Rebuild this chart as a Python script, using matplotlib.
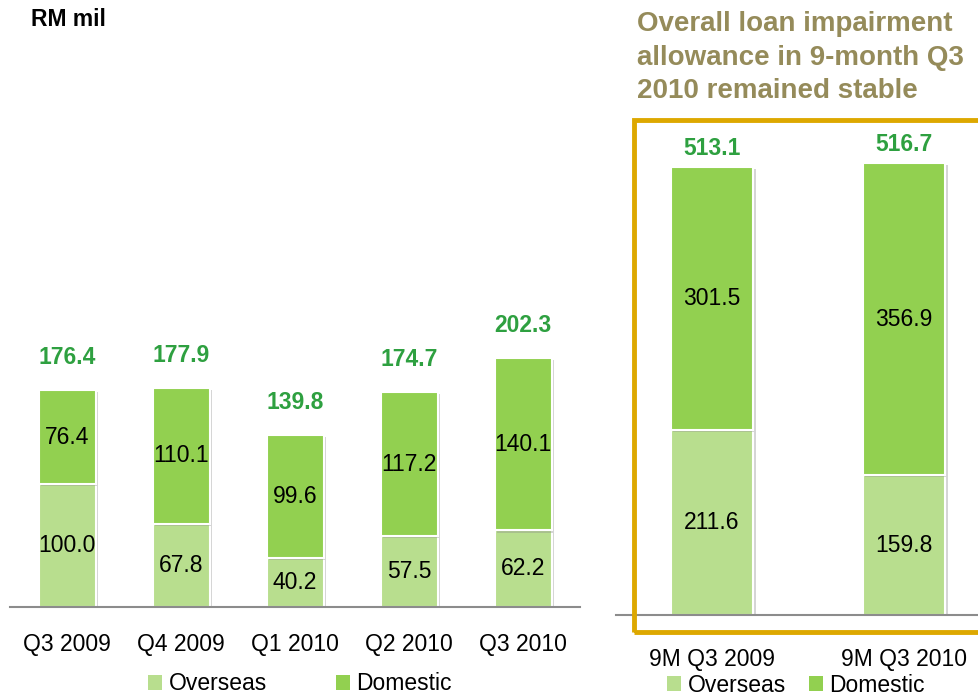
import matplotlib
matplotlib.use("Agg")
import matplotlib.pyplot as plt
from matplotlib.patches import Patch, Rectangle
import matplotlib.patheffects as pe

plt.rcParams['font.family'] = ['Liberation Sans', 'DejaVu Sans']

# ---- data ----
q_labels = ["Q3 2009", "Q4 2009", "Q1 2010", "Q2 2010", "Q3 2010"]
q_overseas = [100.0, 67.8, 40.2, 57.5, 62.2]
q_domestic = [76.4, 110.1, 99.6, 117.2, 140.1]
q_totals = [176.4, 177.9, 139.8, 174.7, 202.3]

m_labels = ["9M Q3 2009", "9M Q3 2010"]
m_overseas = [211.6, 159.8]
m_domestic = [301.5, 356.9]
m_totals = [513.1, 516.7]

unit_label = "RM mil"
side_title = "Overall loan impairment\nallowance in 9-month Q3\n2010 remained stable"
series_names = ["Overseas", "Domestic"]

# ---- style ----
C_OVER = "#B8DE8E"
C_DOM = "#92D050"
C_TOTAL = "#2EA040"
C_TITLE = "#958B5A"
C_GOLD = "#DDA800"
FS = 16.5

W, H = 979, 697
fig = plt.figure(figsize=(W / 100, H / 100), dpi=100)

def px_axes(x0, y_base, x1, y_top):
    return fig.add_axes([x0 / W, (H - y_base) / H, (x1 - x0) / W, (y_base - y_top) / H])

shadow = [pe.SimplePatchShadow(offset=(1.5, -1.5), shadow_rgbFace="#888888", alpha=0.35), pe.Normal()]

def draw_panel(ax, labels, over, dom, totals, width, ymax, xmax, tot_off, pad):
    x = list(range(len(labels)))
    b1 = ax.bar(x, over, width, color=C_OVER, edgecolor="white", linewidth=1.5, zorder=2)
    b2 = ax.bar(x, dom, width, bottom=over, color=C_DOM, edgecolor="white", linewidth=1.5, zorder=2)
    for b in list(b1) + list(b2):
        b.set_path_effects(shadow)
    for i in x:
        ax.text(i, over[i] / 2, f"{over[i]:.1f}", ha="center", va="center", fontsize=FS, color="black", zorder=3)
        ax.text(i, over[i] + dom[i] / 2, f"{dom[i]:.1f}", ha="center", va="center", fontsize=FS, color="black", zorder=3)
        ax.annotate(f"{totals[i]:.1f}", (i, over[i] + dom[i]), xytext=(0, tot_off), textcoords="offset points",
                    ha="center", va="bottom", fontsize=FS, fontweight="bold", color=C_TOTAL)
    ax.set_xlim(-0.5, xmax)
    ax.set_ylim(0, ymax)
    for s in ["top", "right", "left"]:
        ax.spines[s].set_visible(False)
    ax.spines["bottom"].set_color("#8C8C8C")
    ax.spines["bottom"].set_linewidth(1.5)
    ax.set_yticks([])
    ax.set_xticks(x)
    ax.set_xticklabels(labels, fontsize=FS)
    ax.tick_params(axis="x", length=0, pad=pad)
    ax.patch.set_alpha(0)

# left panel: xlim -0.5..4.5 -> px 10..580, baseline 607, 1.23 px/unit
ax1 = px_axes(10, 607, 580, 100)
draw_panel(ax1, q_labels, q_overseas, q_domestic, q_totals, 0.5, (607 - 100) / 1.23, 4.5, 15, 19)

# right panel: center0 712, spacing 192, baseline 615, 0.874 px/unit
ax2 = px_axes(616, 615, 979, 100)
draw_panel(ax2, m_labels, m_overseas, m_domestic, m_totals, 0.432, (615 - 100) / 0.874, (979 - 712) / 192, 5, 24)

# gold frame
fig.patches.append(Rectangle((634 / W, (H - 632) / H), 400 / W, (632 - 120) / H, transform=fig.transFigure,
                             fill=False, edgecolor=C_GOLD, linewidth=3.5, zorder=0))

fig.text(31 / W, 1 - 19 / H, unit_label, fontsize=FS, fontweight="bold", ha="left", va="center")
fig.text(637 / W, 1 - 11 / H, side_title, fontsize=20, fontweight="bold", color=C_TITLE, ha="left", va="top",
         linespacing=1.38)

handles = [Patch(facecolor=C_OVER, edgecolor="none"), Patch(facecolor=C_DOM, edgecolor="none")]
fig.legend(handles, series_names, loc="center", bbox_to_anchor=(300 / W, 1 - 684 / H), ncol=2, frameon=False,
           fontsize=FS, handlelength=0.6, handleheight=0.6, handletextpad=0.3, columnspacing=3.0, borderpad=0)
fig.legend(handles, series_names, loc="center", bbox_to_anchor=(796 / W, 1 - 685 / H), ncol=2, frameon=False,
           fontsize=FS, handlelength=0.6, handleheight=0.6, handletextpad=0.3, columnspacing=1.0, borderpad=0)

fig.savefig("out.png", dpi=100)
